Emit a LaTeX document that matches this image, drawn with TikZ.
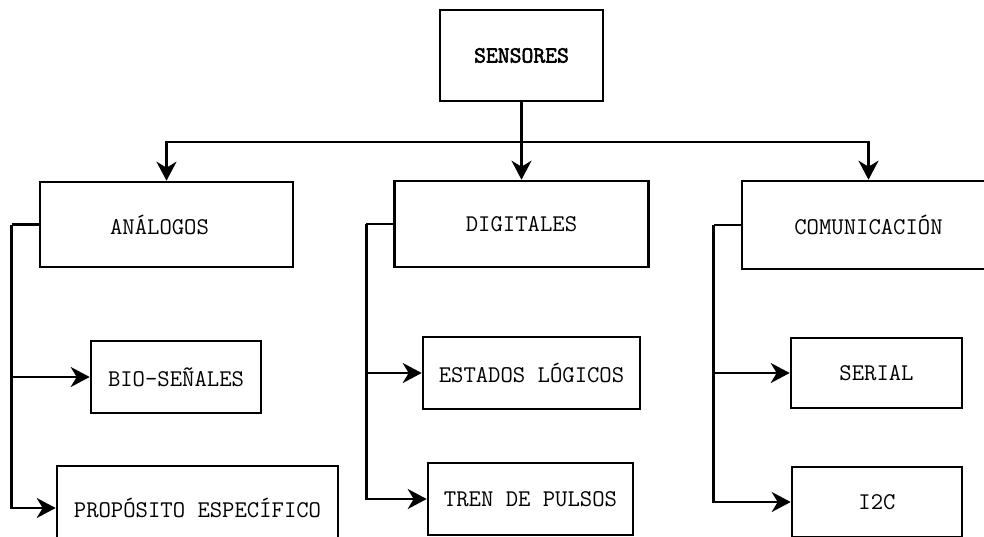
\documentclass[tikz,border=0pt]{standalone}
\usepackage{fontspec}
\newfontfamily\rootfont[FakeBold=2.5]{Latin Modern Mono}
\usetikzlibrary{arrows.meta}
\begin{document}
\begin{tikzpicture}[x=1pt,y=1pt,
  box/.style={draw=black, line width=2.6pt, fill=white, rectangle, inner sep=0pt,
    font=\ttfamily\fontsize{24}{28}\selectfont},
  link/.style={line width=2.6pt, draw=black},
  arr/.style={link, -{Stealth[length=19pt,width=20pt,inset=6pt]}}]
\useasboundingbox (0,0) rectangle (984,-536);
\clip (0,0) rectangle (984,-536);
\fill[white] (0,0) rectangle (984,-536);

% root
\node[box, minimum width=163pt, minimum height=91pt, font=\rootfont\fontsize{23}{27}\selectfont]
  (S) at (521.5,-55.5) {SENSORES};

% categories
\node[box, minimum width=253pt, minimum height=85pt] (A) at (166.5,-224.5) {\hspace*{-14pt}ANÁLOGOS};
\node[box, minimum width=254pt, minimum height=86pt] (D) at (521.5,-224)   {DIGITALES};
\node[box, minimum width=253pt, minimum height=88pt] (C) at (868.5,-225)   {COMUNICACIÓN};

% leaves
\node[box, minimum width=170pt, minimum height=72pt] (B)  at (176,-377)   {BIO-SEÑALES};
\node[box, minimum width=281pt, minimum height=84pt] (P)  at (197.5,-508) {PROPÓSITO ESPECÍFICO};
\node[box, minimum width=217pt, minimum height=72pt] (E)  at (531.5,-373) {ESTADOS LÓGICOS};
\node[box, minimum width=205pt, minimum height=72pt] (T)  at (530.5,-499) {TREN DE PULSOS};
\node[box, minimum width=171pt, minimum height=70pt] (SR) at (876.5,-373) {SERIAL};
\node[box, minimum width=170pt, minimum height=70pt] (I)  at (877,-502)   {I2C};

% bus from the root to the categories
\coordinate (bus) at (521.5,-142);
\draw[link] (S.south) -- (bus);
\draw[arr] (bus) -| (A.north);
\draw[arr] (bus) -- (D.north);
\draw[arr] (bus) -| (C.north);

% category branches
\foreach \p/\a/\b in {A/B/P, D/E/T, C/SR/I}{
  \draw[link] (\p.west) -- ++(-27,0) coordinate (\p-spine);
  \draw[arr] (\p-spine) |- (\a.west);
  \draw[arr] (\p-spine) |- (\b.west);
}
\end{tikzpicture}
\end{document}
